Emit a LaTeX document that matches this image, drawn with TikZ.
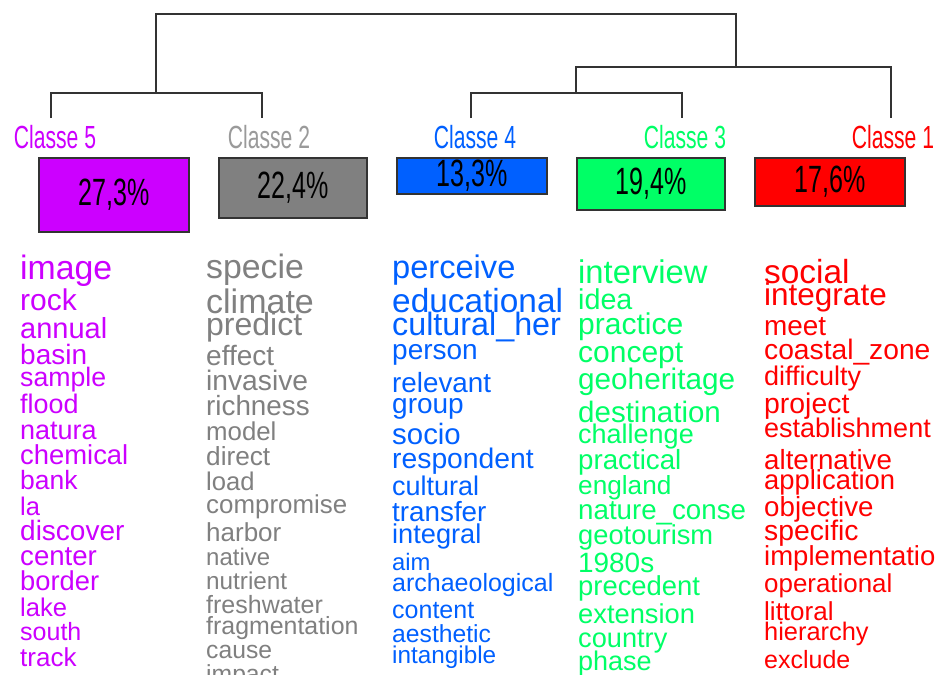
\documentclass[tikz,border=0pt]{standalone}
\usepackage{fontspec}
\setmainfont{Liberation Sans}
\newfontfamily\condfont[FakeStretch=0.66]{Liberation Sans}
\definecolor{cpurple}{HTML}{CC00FF}
\definecolor{cgray}{HTML}{808080}
\definecolor{cblue}{HTML}{0060FF}
\definecolor{cgreen}{HTML}{00FF66}
\definecolor{cred}{HTML}{FF0000}
\definecolor{lgray}{HTML}{333333}
\tikzset{
  wrd/.style={anchor=base west, inner sep=0pt, font=\fontsize{#1}{#1}\selectfont},
  clabel/.style={inner sep=0pt, font=\condfont\fontsize{32}{32}\selectfont},
  pbox/.style={draw=lgray, line width=1.6pt, inner sep=0pt, minimum width=#1,
    font=\condfont\fontsize{38}{38}\selectfont, text=black},
  dendro/.style={draw=lgray, line width=1.4pt}
}
\begin{document}
\begin{tikzpicture}[x=1pt,y=-1pt]
\clip (0,0) rectangle (935,675);
\fill[white] (0,0) rectangle (935,675);
% dendrogram coordinates
\coordinate (l5) at (51,118);
\coordinate (l2) at (262,118);
\coordinate (l4) at (471,118);
\coordinate (l3) at (682,118);
\coordinate (l1) at (891,118);
\coordinate (j52) at (156,93);
\coordinate (j43) at (576,93);
\coordinate (j431) at (736,67);
\coordinate (root) at (446,14);
\draw[dendro] (l5) |- (j52) -| (l2);
\draw[dendro] (l4) |- (j43) -| (l3);
\draw[dendro] (j43) |- (j431) -| (l1);
\draw[dendro] (j52) |- (root) -| (j431);
% class labels
\node[clabel, text=cpurple] (c5) at (55,137) {Classe 5};
\node[clabel, text=cgray!80] (c2) at (269,137) {Classe 2};
\node[clabel, text=cblue] (c4) at (475,137) {Classe 4};
\node[clabel, text=cgreen] (c3) at (685,137) {Classe 3};
\node[clabel, text=cred] (c1) at (893,137) {Classe 1};
% boxes
\node[pbox=150pt, fill=cpurple, minimum height=74pt] (b5) at (114,195) {27,3\%};
\node[pbox=148pt, fill=cgray, minimum height=60pt] (b2) at (293,188) {22,4\%};
\node[pbox=150pt, fill=cblue, minimum height=36pt] (b4) at (472,176) {13,3\%};
\node[pbox=148pt, fill=cgreen, minimum height=52pt] (b3) at (651,184) {19,4\%};
\node[pbox=150pt, fill=cred, minimum height=48pt] (b1) at (830,182) {17,6\%};
% Classe 5 words
\begin{scope}[every node/.append style={text=cpurple}]
\node[wrd=33.8] (p1) at (20,279) {image};
\node[wrd=30] (p2) at (20,310) {rock};
\node[wrd=29] (p3) at (20,338) {annual};
\node[wrd=28] (p4) at (20,364) {basin};
\node[wrd=26.7] (p5) at (20,386) {sample};
\node[wrd=26.9] (p6) at (20,413) {flood};
\node[wrd=27] (p7) at (20,439) {natura};
\node[wrd=27.4] (p8) at (20,464) {chemical};
\node[wrd=26.5] (p9) at (20,489) {bank};
\node[wrd=25.5] (p10) at (20,515) {la};
\node[wrd=28] (p11) at (20,540) {discover};
\node[wrd=27.6] (p12) at (20,565) {center};
\node[wrd=27.3] (p13) at (20,590) {border};
\node[wrd=25.6] (p14) at (20,616) {lake};
\node[wrd=25] (p15) at (20,640) {south};
\node[wrd=26] (p16) at (20,666) {track};
\end{scope}
% Classe 2 words
\begin{scope}[every node/.append style={text=cgray}]
\node[wrd=33.8] (g1) at (206,278) {specie};
\node[wrd=34] (g2) at (206,313) {climate};
\node[wrd=32] (g3) at (206,335) {predict};
\node[wrd=28] (g4) at (206,365) {effect};
\node[wrd=28.2] (g5) at (206,390) {invasive};
\node[wrd=27.8] (g6) at (206,415) {richness};
\node[wrd=25.8] (g7) at (206,440) {model};
\node[wrd=26.2] (g8) at (206,465) {direct};
\node[wrd=25.6] (g9) at (206,490) {load};
\node[wrd=25.9] (g10) at (206,513) {compromise};
\node[wrd=26] (g11) at (206,541) {harbor};
\node[wrd=24] (g12) at (206,565) {native};
\node[wrd=24.3] (g13) at (206,589) {nutrient};
\node[wrd=25] (g14) at (206,613) {freshwater};
\node[wrd=24.9] (g15) at (206,634) {fragmentation};
\node[wrd=24.7] (g16) at (206,658) {cause};
\node[wrd=24.7] (g17) at (206,682) {impact};
\end{scope}
% Classe 4 words
\begin{scope}[every node/.append style={text=cblue}]
\node[wrd=32.6] (u1) at (392,278) {perceive};
\node[wrd=33.4] (u2) at (392,312) {educational};
\node[wrd=32.3] (u3) at (392,335) {cultural\_her};
\node[wrd=28] (u4) at (392,359) {person};
\node[wrd=27.8] (u5) at (392,392) {relevant};
\node[wrd=28] (u6) at (392,413) {group};
\node[wrd=29.4] (u7) at (392,444) {socio};
\node[wrd=28.3] (u8) at (392,468) {respondent};
\node[wrd=27] (u9) at (392,495) {cultural};
\node[wrd=27.8] (u10) at (392,521) {transfer};
\node[wrd=27.2] (u11) at (392,543) {integral};
\node[wrd=23.8] (u12) at (392,570) {aim};
\node[wrd=25] (u13) at (392,591) {archaeological};
\node[wrd=25] (u14) at (392,618) {content};
\node[wrd=24.7] (u15) at (392,642) {aesthetic};
\node[wrd=24.3] (u16) at (392,663) {intangible};
\end{scope}
% Classe 3 words
\begin{scope}[every node/.append style={text=cgreen}]
\node[wrd=32.8] (n1) at (578,283) {interview};
\node[wrd=28.7] (n2) at (578,309) {idea};
\node[wrd=30] (n3) at (578,334) {practice};
\node[wrd=30] (n4) at (578,362) {concept};
\node[wrd=29.7] (n5) at (578,389) {geoheritage};
\node[wrd=29.5] (n6) at (578,422) {destination};
\node[wrd=27] (n7) at (578,443) {challenge};
\node[wrd=27.7] (n8) at (578,469) {practical};
\node[wrd=26.2] (n9) at (578,494) {england};
\node[wrd=27.7] (n10) at (578,519) {nature\_conse};
\node[wrd=27.3] (n11) at (578,544) {geotourism};
\node[wrd=27.9] (n12) at (578,572) {1980s};
\node[wrd=27.4] (n13) at (578,595) {precedent};
\node[wrd=27.3] (n14) at (578,623) {extension};
\node[wrd=27.2] (n15) at (578,647) {country};
\node[wrd=27] (n16) at (578,670) {phase};
\end{scope}
% Classe 1 words
\begin{scope}[every node/.append style={text=cred}]
\node[wrd=33.4] (r1) at (764,283) {social};
\node[wrd=31.5] (r2) at (764,305) {integrate};
\node[wrd=27.9] (r3) at (764,335) {meet};
\node[wrd=28.2] (r4) at (764,359) {coastal\_zone};
\node[wrd=27] (r5) at (764,385) {difficulty};
\node[wrd=28.4] (r6) at (764,413) {project};
\node[wrd=27] (r7) at (764,437) {establishment};
\node[wrd=27.7] (r8) at (764,469) {alternative};
\node[wrd=27.4] (r9) at (764,489) {application};
\node[wrd=27.7] (r10) at (764,516) {objective};
\node[wrd=28.3] (r11) at (764,540) {specific};
\node[wrd=27.5] (r12) at (764,565) {implementatio};
\node[wrd=25.9] (r13) at (764,592) {operational};
\node[wrd=26] (r14) at (764,620) {littoral};
\node[wrd=25.4] (r15) at (764,640) {hierarchy};
\node[wrd=25] (r16) at (764,668) {exclude};
\end{scope}
\end{tikzpicture}
\end{document}
